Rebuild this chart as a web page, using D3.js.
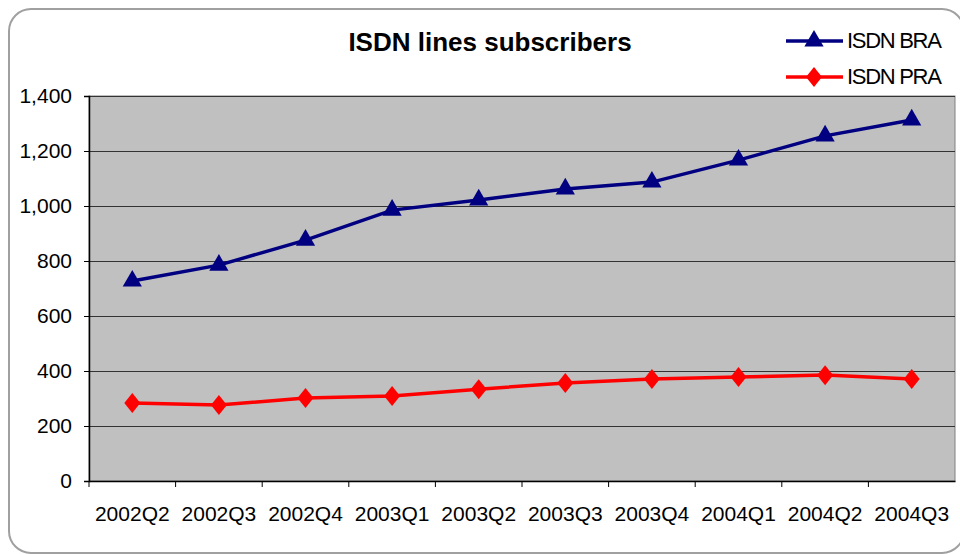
<!DOCTYPE html>
<html>
<head>
<meta charset="utf-8">
<script src="https://cdn.jsdelivr.net/npm/d3@7"></script>
<style>
  body { margin: 0; background: #fff; }
  svg { display: block; font-family: "Liberation Sans", Arial, sans-serif; }
</style>
</head>
<body>
<div id="chart"></div>
<script>
// Data
const quarters = ["2002Q2", "2002Q3", "2002Q4", "2003Q1", "2003Q2", "2003Q3", "2003Q4", "2004Q1", "2004Q2", "2004Q3"];
const braValues = [727, 785, 876, 985, 1022, 1062, 1087, 1167, 1255, 1313];
const praValues = [284, 276, 302, 309, 334, 356, 371, 378, 385, 371];
const yTicks = [0, 200, 400, 600, 800, 1000, 1200, 1400];

const W = 960, H = 554;
const plot = { left: 89, right: 955, top: 96, bottom: 481 };

const svg = d3.select("#chart").append("svg")
    .attr("width", W)
    .attr("height", H);

// outer frame
svg.append("rect")
    .attr("x", 9).attr("y", 9)
    .attr("width", 955).attr("height", 544)
    .attr("rx", 22).attr("ry", 22)
    .attr("fill", "#fff")
    .attr("stroke", "#a0a0a0")
    .attr("stroke-width", 2);

const x = d3.scaleBand()
    .domain(quarters)
    .range([plot.left, plot.right]);

const y = d3.scaleLinear()
    .domain([0, 1400])
    .range([plot.bottom, plot.top]);

// plot background
svg.append("rect")
    .attr("x", plot.left).attr("y", plot.top)
    .attr("width", plot.right - plot.left)
    .attr("height", plot.bottom - plot.top)
    .attr("fill", "#c0c0c0")
    .attr("stroke", "#808080")
    .attr("stroke-width", 1);

// gridlines
svg.append("g")
    .selectAll("line")
    .data(yTicks.filter(d => d > 0))
    .enter()
    .append("line")
    .attr("x1", plot.left).attr("x2", plot.right)
    .attr("y1", d => Math.round(y(d)) + 0.5)
    .attr("y2", d => Math.round(y(d)) + 0.5)
    .attr("stroke", "#333")
    .attr("stroke-width", 1);

// y axis
const yAxis = svg.append("g")
    .attr("transform", `translate(${plot.left},0)`)
    .call(d3.axisLeft(y).tickValues(yTicks).tickSize(5).tickPadding(12).tickFormat(d3.format(",")));
yAxis.select(".domain").attr("stroke", "#000").attr("stroke-width", 1.5);
yAxis.selectAll(".tick line").attr("stroke", "#000");
yAxis.selectAll("text")
    .style("font-size", "21px")
    .style("font-family", "Liberation Sans, Arial, sans-serif")
    .attr("fill", "#000");

// x axis
const xAxis = svg.append("g")
    .attr("transform", `translate(0,${plot.bottom})`)
    .call(d3.axisBottom(x).tickSize(0).tickPadding(25));
xAxis.select(".domain").attr("stroke", "#000").attr("stroke-width", 1.5);
xAxis.selectAll("text")
    .style("font-size", "21px")
    .style("font-family", "Liberation Sans, Arial, sans-serif")
    .attr("fill", "#000");

// x tick marks at category boundaries
svg.append("g")
    .selectAll("line")
    .data(quarters)
    .enter()
    .append("line")
    .attr("x1", d => x(d)).attr("x2", d => x(d))
    .attr("y1", plot.bottom).attr("y2", plot.bottom + 6)
    .attr("stroke", "#000");

const cx = d => x(d) + x.bandwidth() / 2;

const series = [
    { name: "ISDN BRA", values: braValues, color: "#000080", shape: d3.symbolTriangle, size: 160 },
    { name: "ISDN PRA", values: praValues, color: "#ff0000", shape: "diamond", size: 0 }
];

function marker(g, s) {
    if (s.shape === "diamond") {
        g.append("path").attr("d", "M0,-10L8,0L0,10L-8,0Z").attr("fill", s.color);
    } else {
        g.append("path").attr("d", d3.symbol().type(s.shape).size(s.size)()).attr("fill", s.color);
    }
}

const line = d3.line()
    .x((d, i) => cx(quarters[i]))
    .y(d => y(d));

series.forEach(s => {
    svg.append("path")
        .datum(s.values)
        .attr("fill", "none")
        .attr("stroke", s.color)
        .attr("stroke-width", 3.5)
        .attr("d", line);

    s.values.forEach((v, i) => {
        const g = svg.append("g").attr("transform", `translate(${cx(quarters[i])},${y(v)})`);
        marker(g, s);
    });
});

// title
svg.append("text")
    .attr("x", 490)
    .attr("y", 51)
    .attr("text-anchor", "middle")
    .style("font-size", "26px")
    .style("font-weight", "bold")
    .text("ISDN lines subscribers");

// legend
const legend = svg.append("g");
series.forEach((s, i) => {
    const ly = 41 + i * 36;
    legend.append("line")
        .attr("x1", 786).attr("x2", 843)
        .attr("y1", ly).attr("y2", ly)
        .attr("stroke", s.color)
        .attr("stroke-width", 3.5);
    const g = legend.append("g").attr("transform", `translate(814,${ly})`);
    marker(g, s);
    legend.append("text")
        .attr("x", 847)
        .attr("y", ly + 7)
        .style("font-size", "22px")
        .style("letter-spacing", "-1.3px")
        .text(s.name);
});
</script>
</body>
</html>
